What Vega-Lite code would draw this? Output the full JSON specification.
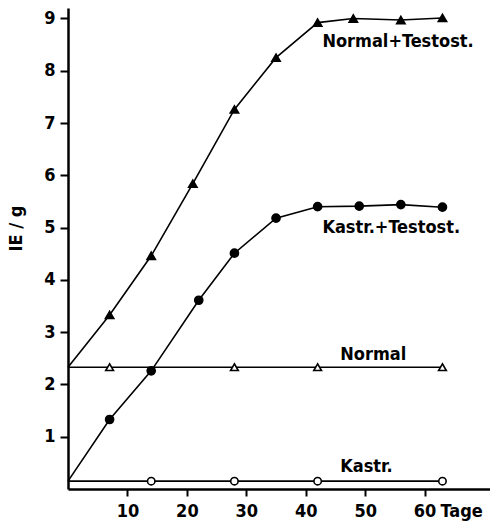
{
  "$schema": "https://vega.github.io/schema/vega-lite/v6.json",
  "width": 422,
  "height": 481,
  "autosize": "none",
  "padding": {"left": 68, "top": 8, "right": 0, "bottom": 32},
  "background": "white",
  "config": {
    "view": {"stroke": null},
    "font": "DejaVu Sans Condensed",
    "axis": {"grid": false, "domainColor": "black", "domainWidth": 2.5, "tickColor": "black", "tickWidth": 2, "tickSize": 8, "labelColor": "black", "labelFont": "DejaVu Sans Condensed", "labelFontWeight": "bold", "labelFontSize": 18, "titleFont": "DejaVu Sans Condensed", "titleFontWeight": "bold", "titleFontSize": 18, "titleColor": "black"}
  },
  "datasets": {
    "series": [
      {"day": 0, "value": 2.33, "group": "Normal+Testost.", "marked": false},
      {"day": 7, "value": 3.33, "group": "Normal+Testost.", "marked": true},
      {"day": 14, "value": 4.46, "group": "Normal+Testost.", "marked": true},
      {"day": 21, "value": 5.84, "group": "Normal+Testost.", "marked": true},
      {"day": 28, "value": 7.26, "group": "Normal+Testost.", "marked": true},
      {"day": 35, "value": 8.25, "group": "Normal+Testost.", "marked": true},
      {"day": 42, "value": 8.92, "group": "Normal+Testost.", "marked": true},
      {"day": 48, "value": 9.0, "group": "Normal+Testost.", "marked": true},
      {"day": 56, "value": 8.97, "group": "Normal+Testost.", "marked": true},
      {"day": 63, "value": 9.01, "group": "Normal+Testost.", "marked": true},
      {"day": 0, "value": 0.15, "group": "Kastr.+Testost.", "marked": false},
      {"day": 7, "value": 1.33, "group": "Kastr.+Testost.", "marked": true},
      {"day": 14, "value": 2.26, "group": "Kastr.+Testost.", "marked": true},
      {"day": 22, "value": 3.61, "group": "Kastr.+Testost.", "marked": true},
      {"day": 28, "value": 4.51, "group": "Kastr.+Testost.", "marked": true},
      {"day": 35, "value": 5.18, "group": "Kastr.+Testost.", "marked": true},
      {"day": 42, "value": 5.4, "group": "Kastr.+Testost.", "marked": true},
      {"day": 49, "value": 5.41, "group": "Kastr.+Testost.", "marked": true},
      {"day": 56, "value": 5.44, "group": "Kastr.+Testost.", "marked": true},
      {"day": 63, "value": 5.39, "group": "Kastr.+Testost.", "marked": true},
      {"day": 0, "value": 2.33, "group": "Normal", "marked": false},
      {"day": 7, "value": 2.33, "group": "Normal", "marked": true},
      {"day": 28, "value": 2.33, "group": "Normal", "marked": true},
      {"day": 42, "value": 2.33, "group": "Normal", "marked": true},
      {"day": 63, "value": 2.33, "group": "Normal", "marked": true},
      {"day": 0, "value": 0.15, "group": "Kastr.", "marked": false},
      {"day": 14, "value": 0.15, "group": "Kastr.", "marked": true},
      {"day": 28, "value": 0.15, "group": "Kastr.", "marked": true},
      {"day": 42, "value": 0.15, "group": "Kastr.", "marked": true},
      {"day": 63, "value": 0.15, "group": "Kastr.", "marked": true}
    ],
    "labels": [
      {"day": 42.8, "value": 8.55, "text": "Normal+Testost."},
      {"day": 42.8, "value": 5.0, "text": "Kastr.+Testost."},
      {"day": 45.8, "value": 2.56, "text": "Normal"},
      {"day": 45.8, "value": 0.42, "text": "Kastr."}
    ]
  },
  "layer": [
    {
      "data": {"name": "series"},
      "mark": {"type": "line", "color": "black", "strokeWidth": 1.6},
      "encoding": {
        "x": {"field": "day", "type": "quantitative", "scale": {"domain": [0, 71], "nice": false}, "axis": {"values": [10, 20, 30, 40, 50, 60], "tickSize": 7, "title": "Tage", "titleAngle": 0, "titleAlign": "left", "titleBaseline": "middle", "titleX": 372, "titleY": 22, "labelPadding": 6}},
        "y": {"field": "value", "type": "quantitative", "scale": {"domain": [0, 9.2], "nice": false}, "axis": {"values": [1, 2, 3, 4, 5, 6, 7, 8, 9], "title": "IE / g", "titleAngle": -90, "titleBaseline": "middle", "titleX": -52, "titleY": 220, "titleAlign": "center", "labelPadding": 5}},
        "detail": {"field": "group"}
      }
    },
    {
      "data": {"name": "series"},
      "transform": [{"filter": "datum.marked"}],
      "mark": {"type": "point", "stroke": "black", "strokeWidth": 1.6, "opacity": 1},
      "encoding": {
        "x": {"field": "day", "type": "quantitative"},
        "y": {"field": "value", "type": "quantitative"},
        "shape": {"field": "group", "type": "nominal", "scale": {"domain": ["Normal+Testost.", "Kastr.+Testost.", "Normal", "Kastr."], "range": ["triangle-up", "circle", "triangle-up", "circle"]}, "legend": null},
        "fill": {"field": "group", "type": "nominal", "scale": {"domain": ["Normal+Testost.", "Kastr.+Testost.", "Normal", "Kastr."], "range": ["black", "black", "white", "white"]}, "legend": null},
        "size": {"field": "group", "type": "nominal", "scale": {"domain": ["Normal+Testost.", "Kastr.+Testost.", "Normal", "Kastr."], "range": [70, 55, 45, 45]}, "legend": null}
      }
    },
    {
      "data": {"name": "labels"},
      "mark": {"type": "text", "align": "left", "baseline": "middle", "font": "DejaVu Sans Condensed", "fontWeight": "bold", "fontSize": 18, "color": "black"},
      "encoding": {
        "x": {"field": "day", "type": "quantitative"},
        "y": {"field": "value", "type": "quantitative"},
        "text": {"field": "text"}
      }
    }
  ]
}
